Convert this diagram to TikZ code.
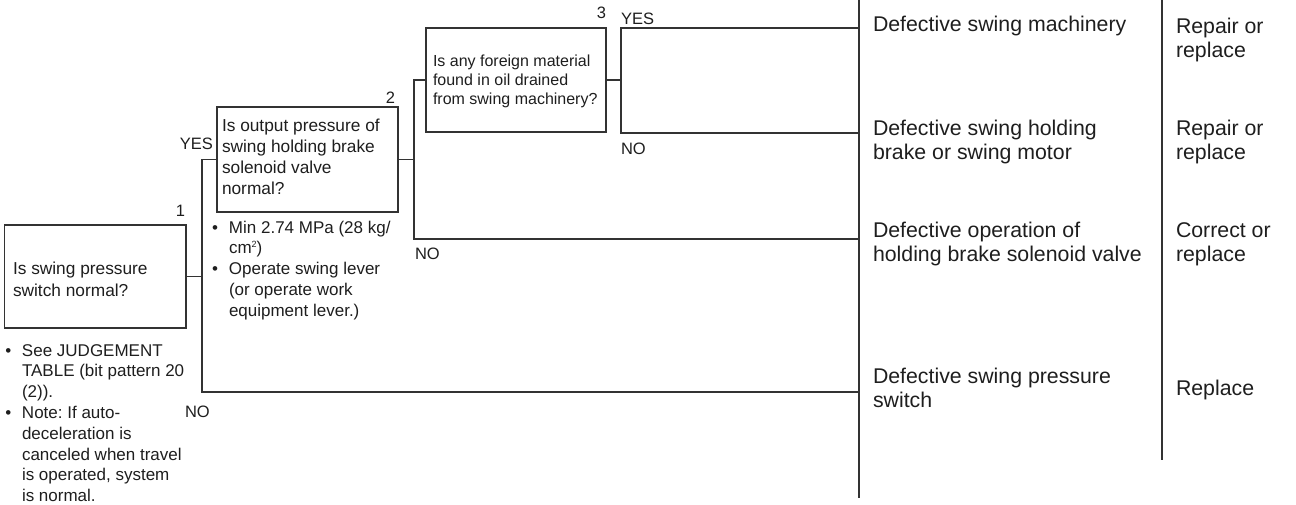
\documentclass[tikz,border=0pt]{standalone}
\usepackage{fontspec}
\setmainfont{Liberation Sans}
\frenchspacing
\definecolor{lc}{HTML}{333333}
\definecolor{tc}{HTML}{1E1E1E}
\newcommand{\fbigtxt}{\fontsize{21.3pt}{24.5pt}\selectfont}
\newcommand{\fboxtxt}{\fontsize{17.3pt}{21pt}\selectfont}
\newcommand{\fboxtxta}{\fontsize{17.3pt}{22pt}\selectfont}
\newcommand{\fsmalltxt}{\fontsize{16pt}{19pt}\selectfont}
\newcommand{\flabtxt}{\fontsize{16.5pt}{20pt}\selectfont}
\newcommand{\fnotetxt}{\fontsize{17pt}{20.8pt}\selectfont}
\newcommand{\mltxt}[1]{\begin{tabular}[t]{@{}l@{}}#1\end{tabular}}
\newcommand{\bltxt}[1]{\begin{tabular}[t]{@{}l@{}l@{}}#1\end{tabular}}
\newcommand{\supsq}{\raisebox{6.5pt}{\fontsize{9pt}{9pt}\selectfont 2}}
\begin{document}
\begin{tikzpicture}[x=1pt,y=-1pt,
  line/.style={draw=lc, line width=1.2pt},
  qbox/.style={draw=lc, line width=1.2pt, rectangle, inner sep=0pt, outer sep=0pt},
  txt/.style={inner sep=0pt, outer sep=0pt, anchor=base west, text=tc},
  txte/.style={inner sep=0pt, outer sep=0pt, anchor=base east, text=tc}]
\path[use as bounding box] (0,0) rectangle (1296,504);

% decision boxes
\node[qbox, minimum width=181.5pt, minimum height=103pt] (b1) at (95.25,276.5) {};
\node[qbox, minimum width=181pt, minimum height=105pt] (b2) at (307.5,159.5) {};
\node[qbox, minimum width=180pt, minimum height=104pt] (b3) at (516,80) {};

% box texts
\node[txt] (t1) at (13,274) {\fboxtxta\mltxt{Is swing pressure\\switch normal?}};
\node[txt] (t2) at (222,131) {\fboxtxt\mltxt{Is output pressure of\\swing holding brake\\solenoid valve\\normal?}};
\node[txt] (t3) at (433,66) {\fsmalltxt\mltxt{Is any foreign material\\found in oil drained\\from swing machinery?}};

% numbers
\node[txte] (n1) at (185,216) {\flabtxt 1};
\node[txte] (n2) at (395,103) {\flabtxt 2};
\node[txte] (n3) at (606,18) {\flabtxt 3};

% notes
\node[txt] (m1) at (5.3,356) {\fnotetxt\bltxt{\makebox[16.7pt][l]{•}&See JUDGEMENT\\&TABLE (bit pattern 20\\&(2)).\\\makebox[16.7pt][l]{•}&Note: If auto-\\&deceleration is\\&canceled when travel\\&is operated, system\\&is normal.}};
\node[txt] (m2) at (212,233) {\fnotetxt\bltxt{\makebox[17pt][l]{•}&Min 2.74 MPa (28 kg/\\&cm\supsq)\\\makebox[17pt][l]{•}&Operate swing lever\\&(or operate work\\&equipment lever.)}};

% YES / NO labels
\node[txte] (y2) at (213,149) {\flabtxt YES};
\node[txt] (y3) at (621,24) {\flabtxt YES};
\node[txt] (no1) at (185,417) {\flabtxt NO};
\node[txt] (no2) at (415,259) {\flabtxt NO};
\node[txt] (no3) at (621,154) {\flabtxt NO};

% coordinates
\coordinate (j1t) at (202,159.5);
\coordinate (j1b) at (202,392);
\coordinate (j2t) at (414,80);
\coordinate (j2b) at (414,239);
\coordinate (j3t) at (621,28);
\coordinate (j3b) at (621,133);
\coordinate (e1) at (859,28);
\coordinate (e2) at (859,133);
\coordinate (e3) at (859,239);
\coordinate (e4) at (859,392);
\coordinate (v1t) at (859,0);
\coordinate (v1b) at (859,498);
\coordinate (v2t) at (1162,0);
\coordinate (v2b) at (1162,460);

% connectors
\draw[line] (b1.east) -- (b1.east -| j1t);
\draw[line] (b2.west) -- (j1t) -- (j1b) -- (e4);
\draw[line] (b2.east) -- (b2.east -| j2t);
\draw[line] (b3.west) -- (j2t) -- (j2b) -- (e3);
\draw[line] (b3.east) -- (b3.east -| j3t);
\draw[line] (e1) -- (j3t) -- (j3b) -- (e2);
\draw[line] (v1t) -- (v1b);
\draw[line] (v2t) -- (v2b);

% results
\node[txt] (r1) at (873,31) {\fbigtxt\mltxt{Defective swing machinery}};
\node[txt] (r2) at (873,135) {\fbigtxt\mltxt{Defective swing holding\\brake or swing motor}};
\node[txt] (r3) at (873,237) {\fbigtxt\mltxt{Defective operation of\\holding brake solenoid valve}};
\node[txt] (r4) at (873,383) {\fbigtxt\mltxt{Defective swing pressure\\switch}};

% actions
\node[txt] (a1) at (1176,33) {\fbigtxt\mltxt{Repair or\\replace}};
\node[txt] (a2) at (1176,135) {\fbigtxt\mltxt{Repair or\\replace}};
\node[txt] (a3) at (1176,237) {\fbigtxt\mltxt{Correct or\\replace}};
\node[txt] (a4) at (1176,395) {\fbigtxt\mltxt{Replace}};
\end{tikzpicture}
\end{document}
